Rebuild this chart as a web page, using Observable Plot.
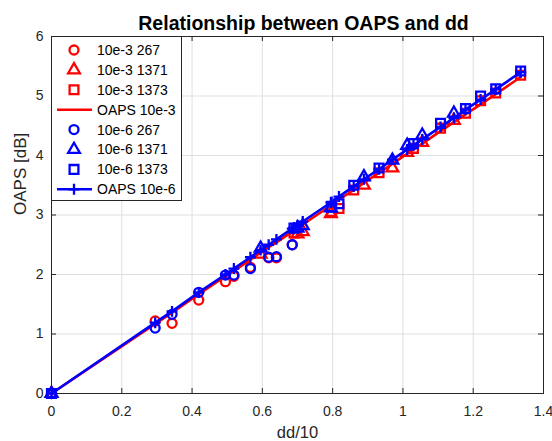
<!DOCTYPE html>
<html><head><meta charset="utf-8">
<script src="https://cdn.jsdelivr.net/npm/d3@7"></script>
<script src="https://cdn.jsdelivr.net/npm/@observablehq/plot@0.6"></script>
<style>
body{margin:0;background:#fff;}
#wrap{position:relative;width:552px;height:441px;font-family:"Liberation Sans",Arial,sans-serif;}
#wrap svg{display:block;}
#legend{position:absolute;left:0;top:0;}
</style></head><body><div id="wrap"></div>
<script>
const titleText = "Relationship between OAPS and dd";
const xLabel = "dd/10";
const yLabel = "OAPS [dB]";
const xTicks = [0, 0.2, 0.4, 0.6, 0.8, 1, 1.2, 1.4];
const yTicks = [0, 1, 2, 3, 4, 5, 6];

// 10e-3 series (red)
const x_267 = [0, 0.295, 0.343, 0.419, 0.495, 0.519, 0.566, 0.618, 0.640, 0.685];
const y3_267 = [0, 1.22, 1.18, 1.57, 1.88, 1.97, 2.12, 2.28, 2.28, 2.50];
const x_1371 = [0, 0.595, 0.700, 0.715, 0.795, 0.889, 0.970, 1.012, 1.055, 1.145];
const y3_1371 = [0, 2.34, 2.68, 2.72, 3.02, 3.50, 3.79, 4.05, 4.22, 4.59];
const x_1373 = [0, 0.690, 0.797, 0.818, 0.860, 0.932, 1.030, 1.107, 1.178, 1.221, 1.264, 1.335];
const y3_1373 = [0, 2.70, 3.06, 3.11, 3.42, 3.71, 4.12, 4.46, 4.71, 4.92, 5.05, 5.35];
// 10e-6 series (blue)
const y6_267 = [0, 1.10, 1.33, 1.70, 1.99, 1.99, 2.10, 2.29, 2.30, 2.50];
const y6_1371 = [0, 2.44, 2.78, 2.82, 3.12, 3.64, 3.92, 4.17, 4.34, 4.71];
const y6_1373 = [0, 2.78, 3.13, 3.19, 3.50, 3.79, 4.20, 4.54, 4.79, 5.00, 5.12, 5.42];
// OAPS model lines
const lineX = [0, 0.295, 0.343, 0.419, 0.495, 0.519, 0.566, 0.595, 0.618, 0.640, 0.685, 0.690, 0.700, 0.715, 0.795, 0.797, 0.818, 0.860, 0.889, 0.932, 0.970, 1.012, 1.030, 1.055, 1.107, 1.145, 1.178, 1.221, 1.264, 1.335];
const oaps3 = [0, 1.17, 1.36, 1.67, 1.97, 2.06, 2.25, 2.37, 2.46, 2.54, 2.72, 2.74, 2.78, 2.84, 3.16, 3.17, 3.26, 3.42, 3.54, 3.71, 3.86, 4.03, 4.10, 4.20, 4.41, 4.56, 4.69, 4.86, 5.03, 5.32];
const oaps6 = [0, 1.19, 1.38, 1.70, 2.00, 2.10, 2.29, 2.41, 2.50, 2.59, 2.77, 2.79, 2.83, 2.89, 3.21, 3.22, 3.31, 3.48, 3.60, 3.77, 3.93, 4.10, 4.17, 4.27, 4.48, 4.63, 4.77, 4.94, 5.11, 5.40];

const legendLabels = ["10e-3 267", "10e-3 1371", "10e-3 1373", "OAPS 10e-3", "10e-6 267", "10e-6 1371", "10e-6 1373", "OAPS 10e-6"];

const RED = "#ff0000", BLUE = "#0000ff";
const zip = (xs, ys) => xs.map((x, i) => ({x, y: ys[i]}));
const markerStyle = {
  circle: {symbol: "circle", r: 4.5},
  triangle: {symbol: "triangle2", r: 5.6},
  square: {symbol: "square2", r: 5.6},
  plus: {symbol: "plus", r: 3.6}
};
const dots = (data, kind, color) => Plot.dot(data, {x: "x", y: "y", symbol: markerStyle[kind].symbol, r: markerStyle[kind].r, stroke: color, strokeWidth: 2.3, fill: "none"});

const chart = Plot.plot({
  width: 552, height: 441,
  marginLeft: 51, marginRight: 9, marginTop: 36, marginBottom: 48,
  style: {fontFamily: "'Liberation Sans', Arial, sans-serif", fontSize: "14px", color: "#262626", background: "#fff"},
  x: {domain: [0, 1.4]},
  y: {domain: [0, 6]},
  marks: [
    Plot.gridX(xTicks, {stroke: "#dfdfdf", strokeOpacity: 1}),
    Plot.gridY(yTicks, {stroke: "#dfdfdf", strokeOpacity: 1}),
    Plot.axisX(xTicks, {tickSize: 0, tickPadding: 13, tickFormat: d => String(d), label: null, fontSize: 14}),
    Plot.axisY(yTicks, {tickSize: 0, tickPadding: 8, tickFormat: d => String(d), label: null, fontSize: 14}),
    Plot.ruleX(xTicks, {x: d => d, insetTop: 352, stroke: "#262626"}),
    Plot.ruleX(xTicks, {x: d => d, insetBottom: 352, stroke: "#262626"}),
    Plot.ruleY(yTicks, {y: d => d, insetLeft: 487, stroke: "#262626"}),
    Plot.ruleY(yTicks, {y: d => d, insetRight: 487, stroke: "#262626"}),
    Plot.frame({stroke: "#262626"}),
    dots(zip(x_267, y3_267), "circle", RED),
    dots(zip(x_1371, y3_1371), "triangle", RED),
    dots(zip(x_1373, y3_1373), "square", RED),
    Plot.line(zip(lineX, oaps3), {x: "x", y: "y", stroke: RED, strokeWidth: 2.6}),
    dots(zip(x_267, y6_267), "circle", BLUE),
    dots(zip(x_1371, y6_1371), "triangle", BLUE),
    dots(zip(x_1373, y6_1373), "square", BLUE),
    Plot.line(zip(lineX, oaps6), {x: "x", y: "y", stroke: BLUE, strokeWidth: 2.6}),
    dots(zip(lineX, oaps6), "plus", BLUE),
    Plot.text([titleText], {text: d => d, frameAnchor: "top", dx: 6, dy: -13, lineAnchor: "middle", fontWeight: "bold", fontSize: 19.5, fill: "#000"}),
    Plot.text([yLabel], {text: d => d, frameAnchor: "left", rotate: -90, dx: -31, lineAnchor: "middle", fontSize: 17, fill: "#262626"}),
    Plot.text([xLabel], {text: d => d, frameAnchor: "bottom", dy: 39, lineAnchor: "middle", fontSize: 16.5, fill: "#262626"})
  ]
});
const wrap = document.getElementById("wrap");
wrap.appendChild(chart);

// Legend overlay
const leg = d3.select(wrap).append("svg").attr("id", "legend").attr("width", 552).attr("height", 441);
leg.append("rect").attr("x", 51.5).attr("y", 36.5).attr("width", 130).attr("height", 164)
  .attr("fill", "#fff").attr("stroke", "#262626").attr("stroke-width", 1);
const legendKinds = [["circle", RED], ["triangle", RED], ["square", RED], ["line", RED], ["circle", BLUE], ["triangle", BLUE], ["square", BLUE], ["lineplus", BLUE]];
const d3sym = {circle: d3.symbolCircle, triangle: d3.symbolTriangle2, square: d3.symbolSquare2, plus: d3.symbolPlus};
legendLabels.forEach((lab, i) => {
  const cy = 50 + i * 19.9;
  const [kind, color] = legendKinds[i];
  const g = leg.append("g");
  if (kind === "line" || kind === "lineplus") {
    g.append("line").attr("x1", 57).attr("x2", 92).attr("y1", cy).attr("y2", cy).attr("stroke", color).attr("stroke-width", 2.6);
    if (kind === "lineplus") {
      const r = markerStyle.plus.r;
      g.append("path").attr("d", d3.symbol(d3sym.plus, Math.PI * r * r)()).attr("transform", `translate(74,${cy})`).attr("fill", "none").attr("stroke", color).attr("stroke-width", 2.3);
    }
  } else {
    const r = markerStyle[kind].r;
    g.append("path").attr("d", d3.symbol(d3sym[kind], Math.PI * r * r)()).attr("transform", `translate(74,${cy})`).attr("fill", "none").attr("stroke", color).attr("stroke-width", 2.3);
  }
  g.append("text").attr("x", 97).attr("y", cy).attr("dy", "0.35em").attr("font-size", 14).attr("fill", "#000")
    .attr("font-family", "'Liberation Sans', Arial, sans-serif").text(lab);
});
</script></body></html>
